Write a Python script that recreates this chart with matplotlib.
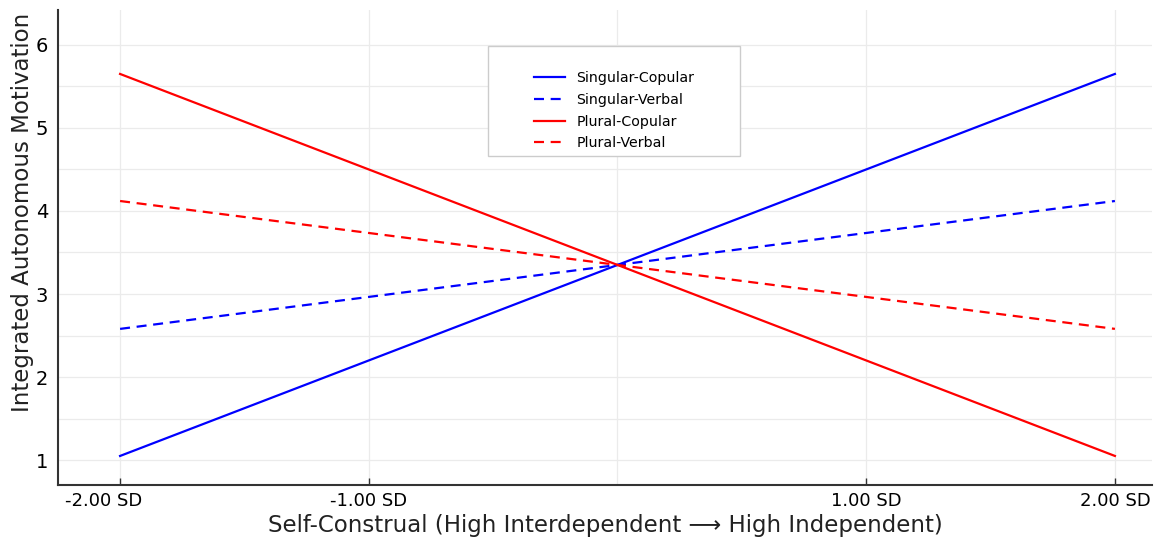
import matplotlib
matplotlib.use("Agg")
import matplotlib.pyplot as plt
from matplotlib.patches import Rectangle
from matplotlib.transforms import ScaledTranslation

# ---- data ----
x_points = [-2.0, 2.0]
singular_copular = [1.05, 5.65]
singular_verbal = [2.58, 4.12]
plural_copular = [5.65, 1.05]
plural_verbal = [4.12, 2.58]

series_names = ["Singular-Copular", "Singular-Verbal", "Plural-Copular", "Plural-Verbal"]
x_tick_values = [-2, -1, 1, 2]
x_tick_labels = ["-2.00 SD", "-1.00 SD", "1.00 SD", "2.00 SD"]
y_tick_values = [1, 2, 3, 4, 5, 6]

W, H = 1158, 541
fig = plt.figure(figsize=(W / 100, H / 100), dpi=100)
ax = fig.add_axes([0.050, 0.1035, 0.945, 0.878])

styles = [("blue", "-"), ("blue", "--"), ("red", "-"), ("red", "--")]
all_series = [singular_copular, singular_verbal, plural_copular, plural_verbal]
for name, ys, (c, ls) in zip(series_names, all_series, styles):
    line, = ax.plot(x_points, ys, color=c, linestyle=ls, linewidth=1.6, label=name)
    if ls == "--":
        line.set_dashes((4.5, 3))

ax.set_xlim(-2.25, 2.15)
ax.set_ylim(0.70, 6.42)

ax.set_xticks(x_tick_values)
ax.set_xticklabels(x_tick_labels)
ax.set_xticks([0], minor=True)
ax.set_yticks(y_tick_values)
ax.set_yticks([1.5, 2.5, 3.5, 4.5, 5.5], minor=True)

ax.grid(True, which="both", color="#ebebeb", linewidth=0.9)
ax.set_axisbelow(True)

ax.tick_params(axis="x", which="major", direction="in", length=5, width=1, labelsize=13, pad=5, color="#333333")
ax.tick_params(axis="x", which="minor", length=0)
ax.tick_params(axis="y", which="both", length=0, labelsize=14, pad=7)

# first tick label sits slightly left of its tick in the reference
lbl0 = ax.xaxis.get_major_ticks()[0].label1
lbl0.set_transform(lbl0.get_transform() + ScaledTranslation(-0.16, 0, fig.dpi_scale_trans))

for s in ["top", "right"]:
    ax.spines[s].set_visible(False)
for s in ["left", "bottom"]:
    ax.spines[s].set_color("#333333")
    ax.spines[s].set_linewidth(1.5)

ax.set_xlabel("Self-Construal (High Interdependent \u27f6 High Independent)", fontsize=16.5, labelpad=3, color="#222222")
ax.set_ylabel("Integrated Autonomous Motivation", fontsize=16.5, color="#222222")
ax.yaxis.set_label_coords(-0.022, 0.575)

leg = ax.legend(loc="upper left", bbox_to_anchor=(534 / W, 1 - 71 / H), bbox_transform=fig.transFigure,
                fontsize=10.2, frameon=False, handlelength=2.2,
                borderpad=0, labelspacing=0.55, handletextpad=0.8, borderaxespad=0)
frame = Rectangle((488 / W, 1 - 156 / H), (740 - 488) / W, (156 - 46) / H, transform=fig.transFigure,
                  facecolor="white", edgecolor="#cccccc", linewidth=1.0, zorder=4)
fig.add_artist(frame)
leg.set_zorder(5)
fig.add_artist(leg)

fig.savefig("out.png", dpi=100)
